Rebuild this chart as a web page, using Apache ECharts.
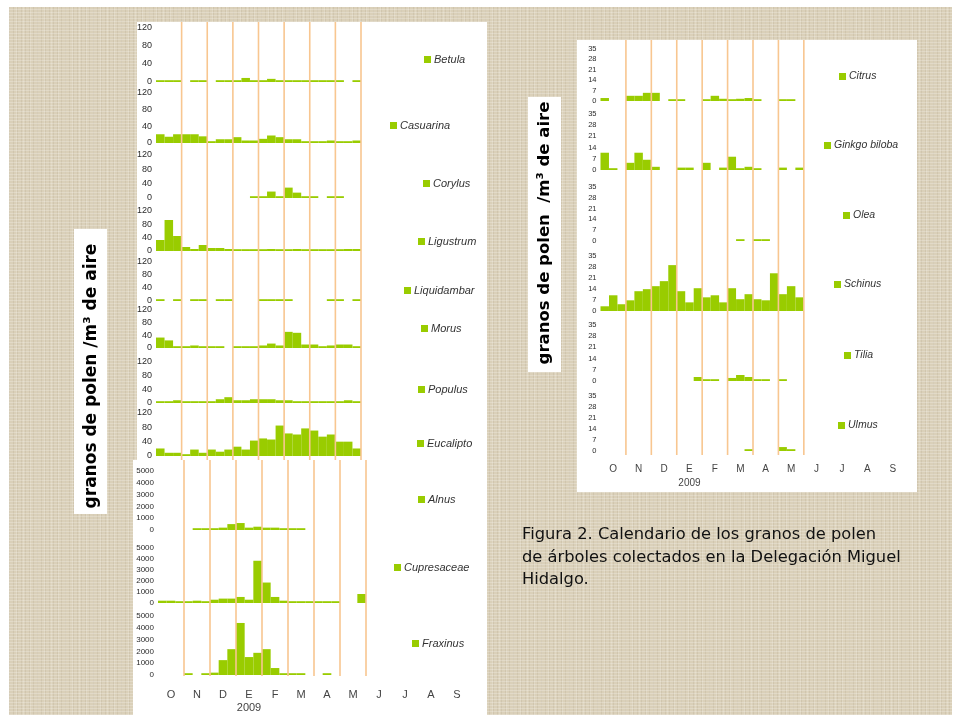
<!DOCTYPE html>
<html>
<head>
<meta charset="utf-8">
<script src="https://cdn.jsdelivr.net/npm/echarts@6/dist/echarts.min.js"></script>
<style>
  html, body { margin: 0; padding: 0; background: #ffffff; }
  #paper {
    position: absolute; left: 9px; top: 7px; width: 943px; height: 708px;
    background-color: #dad0b9;
    background-image:
      repeating-linear-gradient(0deg, rgba(255,255,255,0.22) 0px, rgba(255,255,255,0.22) 1px, rgba(0,0,0,0) 1px, rgba(0,0,0,0) 3px),
      repeating-linear-gradient(90deg, rgba(110,90,60,0.09) 0px, rgba(110,90,60,0.09) 1px, rgba(0,0,0,0) 1px, rgba(0,0,0,0) 4px),
      repeating-linear-gradient(90deg, rgba(255,255,255,0.15) 0px, rgba(255,255,255,0.15) 1px, rgba(0,0,0,0) 1px, rgba(0,0,0,0) 7px);
  }
  #chart { position: absolute; left: 0; top: 0; width: 961px; height: 722px; }
</style>
</head>
<body>
<div id="paper"></div>
<div id="chart"></div>
<script>
// Month ticks (October 2008 – September 2009) and ten-day sampling periods
const months = ['O', 'N', 'D', 'E', 'F', 'M', 'A', 'M', 'J', 'J', 'A', 'S'];
const yearLabel = '2009';
const monthBoundaries = [3, 6, 9, 12, 15, 18, 21, 24];

// Pollen grains / m3 of air, one value per ten-day period (October to May)
const betula      = [2, 2, 2, null, 2, 2, null, 2, 2, 4, 9, 1, 3, 7, 3, 4, 3, 1, 4, 1, 2, 2, null, 4];
const casuarina   = [21, 15, 21, 21, 21, 16, 4, 9, 9, 14, 6, 6, 10, 18, 14, 9, 9, 4, 4, 2, 6, 2, 2, 6];
const corylus     = [null, null, null, null, null, null, null, null, null, null, null, 1, 1, 18, 1, 29, 15, 2, 1, null, 1, 1, null, null];
const ligustrum   = [33, 93, 45, 12, 6, 18, 9, 9, 6, 3, 1, 1, 3, 6, 1, 3, 6, 3, 3, 1, 1, 3, 6, 6];
const liquidambar = [1, null, 1, null, 1, 1, null, 1, 1, null, null, null, 1, 1, 3, 3, null, null, null, null, 1, 1, null, 1];
const morus       = [33, 24, 2, 4, 8, 2, 2, 1, null, 2, 4, 2, 8, 14, 8, 51, 48, 11, 11, 4, 8, 11, 11, 4];
const populus     = [5, 5, 8, 1, 1, 1, 1, 11, 17, 8, 8, 11, 11, 11, 8, 8, 1, 1, 1, 1, 1, 1, 8, 1];
const eucalipto   = [21, 9, 9, 4, 18, 9, 18, 12, 18, 26, 18, 43, 49, 46, 85, 63, 60, 77, 71, 54, 60, 40, 40, 21];
const alnus       = [null, null, null, null, 30, 30, 100, 200, 500, 590, 200, 280, 200, 200, 30, 30, 30, null, null, null, null, null, null, null];
const cupresaceae = [210, 210, 20, 120, 210, 120, 300, 400, 400, 550, 300, 3840, 1860, 550, 210, 120, 120, 120, 120, 30, 30, null, null, 820];
const fraxinus    = [null, null, null, 20, null, 20, 200, 1260, 2190, 4410, 1520, 1880, 2190, 590, 80, 80, 20, null, null, 20, null, null, null, null];

const citrus  = [2, null, null, 3.5, 3.5, 5.5, 5.5, null, 1, 1, null, null, 1, 3.5, 1.5, 0.5, 1.5, 2, 0.5, null, null, 1, 1, null];
const ginkgo  = [10.8, 0.5, null, 4.5, 10.8, 6.4, 2, null, null, 1.5, 1.5, null, 4.5, null, 1.5, 8.3, 0.5, 2, 0.5, null, null, 1.5, null, 1.5];
const olea    = [null, null, null, null, null, null, null, null, null, null, null, null, null, null, null, null, 0.5, null, 0.5, 0.5, null, null, null, null];
const schinus = [3, 10, 4.3, 6.8, 12.6, 13.9, 15.8, 19, 29.2, 12.6, 5.5, 14.5, 8.7, 10, 5.5, 14.5, 7.5, 10.7, 7.5, 6.8, 24, 10.7, 15.8, 8.7];
const tilia   = [null, null, null, null, null, null, null, null, null, null, null, 2.5, 0.5, 0.5, null, 1.9, 3.75, 2.5, 0.5, 0.5, null, 0.5, null, null];
const ulmus   = [null, null, null, null, null, null, null, null, null, null, null, null, null, null, null, null, null, 1, null, null, null, 2.5, 1, null];

const GREEN = '#99cc00';
const LINE = '#f8c690';
const FONT = '"Liberation Sans", Arial, sans-serif';
const TITLE_FONT = '"DejaVu Sans", Verdana, sans-serif';

// Panel layout: grid box, y scale, legend placement
const panels = [
  // left column, 0–120 scale
  { name: 'Betula',      data: betula,      left: 156, w: 307.5, top: 28,  bottom: 82,  max: 120,  step: 40,   fs: 9,   lx: 424, ly: 58 },
  { name: 'Casuarina',   data: casuarina,   left: 156, w: 307.5, top: 93,  bottom: 143, max: 120,  step: 40,   fs: 9,   lx: 390, ly: 124 },
  { name: 'Corylus',     data: corylus,     left: 156, w: 307.5, top: 155, bottom: 198, max: 120,  step: 40,   fs: 9,   lx: 423, ly: 182 },
  { name: 'Ligustrum',   data: ligustrum,   left: 156, w: 307.5, top: 211, bottom: 251, max: 120,  step: 40,   fs: 9,   lx: 418, ly: 240 },
  { name: 'Liquidambar', data: liquidambar, left: 156, w: 307.5, top: 262, bottom: 301, max: 120,  step: 40,   fs: 9,   lx: 404, ly: 289 },
  { name: 'Morus',       data: morus,       left: 156, w: 307.5, top: 310, bottom: 348, max: 120,  step: 40,   fs: 9,   lx: 421, ly: 327 },
  { name: 'Populus',     data: populus,     left: 156, w: 307.5, top: 362, bottom: 403, max: 120,  step: 40,   fs: 9,   lx: 418, ly: 388 },
  { name: 'Eucalipto',   data: eucalipto,   left: 156, w: 307.5, top: 413, bottom: 456, max: 120,  step: 40,   fs: 9,   lx: 417, ly: 442 },
  // left column, 0–5000 scale
  { name: 'Alnus',       data: alnus,       left: 158, w: 312,   top: 471, bottom: 530, max: 5000, step: 1000, fs: 8,   lx: 418, ly: 498 },
  { name: 'Cupresaceae', data: cupresaceae, left: 158, w: 312,   top: 548, bottom: 603, max: 5000, step: 1000, fs: 8,   lx: 394, ly: 566 },
  { name: 'Fraxinus',    data: fraxinus,    left: 158, w: 312,   top: 616, bottom: 675, max: 5000, step: 1000, fs: 8,   lx: 412, ly: 642, months: { size: 11, margin: 13, lh: 13 } },
  // right column, 0–35 scale
  { name: 'Citrus',        data: citrus,  left: 600.5, w: 305, top: 49,  bottom: 101, max: 35, step: 7, fs: 7.5, lx: 839, ly: 75,  ls: 10.5 },
  { name: 'Ginkgo biloba', data: ginkgo,  left: 600.5, w: 305, top: 114, bottom: 170, max: 35, step: 7, fs: 7.5, lx: 824, ly: 144, ls: 10.5 },
  { name: 'Olea',          data: olea,    left: 600.5, w: 305, top: 187, bottom: 241, max: 35, step: 7, fs: 7.5, lx: 843, ly: 214, ls: 10.5 },
  { name: 'Schinus',       data: schinus, left: 600.5, w: 305, top: 256, bottom: 311, max: 35, step: 7, fs: 7.5, lx: 834, ly: 283, ls: 10.5 },
  { name: 'Tilia',         data: tilia,   left: 600.5, w: 305, top: 325, bottom: 381, max: 35, step: 7, fs: 7.5, lx: 844, ly: 354, ls: 10.5 },
  { name: 'Ulmus',         data: ulmus,   left: 600.5, w: 305, top: 396, bottom: 451, max: 35, step: 7, fs: 7.5, lx: 838, ly: 424, ls: 10.5, months: { size: 10, margin: 11, lh: 14 } }
];

// Month-boundary guide strips spanning each block of panels
const guides = [
  { left: 156,   w: 307.5, top: 22,  bottom: 460 },
  { left: 158,   w: 312,   top: 460, bottom: 676 },
  { left: 600.5, w: 305,   top: 40,  bottom: 455 }
];

const grid = [], xAxis = [], yAxis = [], series = [], legend = [];

panels.forEach(p => {
  const g = grid.length;
  grid.push({ left: p.left, top: p.top, width: p.w, height: p.bottom - p.top, containLabel: false });
  const xi = xAxis.length, yi = yAxis.length;
  xAxis.push({ gridIndex: g, type: 'value', min: 0, max: 36, show: false, position: 'top' });
  yAxis.push({
    gridIndex: g, type: 'value', min: 0, max: p.max, interval: p.step,
    axisLine: { show: false }, axisTick: { show: false }, splitLine: { show: false },
    axisLabel: { fontSize: p.fs, color: '#2a2a2a', margin: 4, fontFamily: FONT, formatter: v => String(v) }
  });
  series.push({
    type: 'custom', name: p.name, xAxisIndex: xi, yAxisIndex: yi, z: 2,
    itemStyle: { color: GREEN },
    encode: { x: 0, y: 1 },
    data: p.data.map((v, i) => [i, v]).filter(d => d[1] !== null),
    renderItem: (params, api) => {
      const i = api.value(0), v = api.value(1);
      const a = api.coord([i, 0]);
      const b = api.coord([i + 1, v]);
      const h = Math.max(1.8, a[1] - b[1]);
      return { type: 'rect', shape: { x: a[0], y: a[1] - h, width: b[0] - a[0], height: h }, style: { fill: GREEN } };
    }
  });
  legend.push({
    data: [{ name: p.name, icon: 'rect', itemStyle: { color: GREEN } }],
    left: p.lx, top: p.ly - 4, itemWidth: 7, itemHeight: 7, padding: 0, selectedMode: false,
    textStyle: { fontStyle: 'italic', fontSize: p.ls || 11, color: '#333', fontFamily: FONT, padding: [0, 0, 0, -2] }
  });
  if (p.months) {
    xAxis.push({
      gridIndex: g, type: 'category', data: months, position: 'bottom',
      axisLine: { show: false }, axisTick: { show: false },
      axisLabel: {
        interval: 0, margin: p.months.margin, fontSize: p.months.size, lineHeight: p.months.lh,
        color: '#444', fontFamily: FONT,
        formatter: (v, idx) => idx === 3 ? v + '\n' + yearLabel : v
      }
    });
  }
});

guides.forEach(gd => {
  const g = grid.length;
  grid.push({ left: gd.left, top: gd.top, width: gd.w, height: gd.bottom - gd.top });
  const xi = xAxis.length, yi = yAxis.length;
  xAxis.push({ gridIndex: g, type: 'value', min: 0, max: 36, show: false });
  yAxis.push({ gridIndex: g, type: 'value', min: 0, max: 1, show: false });
  series.push({
    type: 'custom', xAxisIndex: xi, yAxisIndex: yi, z: 5, silent: true,
    encode: { x: 0, y: 1 },
    data: monthBoundaries.map(b => [b, 0]),
    renderItem: (params, api) => {
      const x = api.value(0);
      const a = api.coord([x, 0]);
      const b = api.coord([x, 1]);
      return { type: 'line', shape: { x1: a[0], y1: a[1], x2: b[0], y2: b[1] }, style: { stroke: LINE, lineWidth: 1.6 } };
    }
  });
});

const yTitle = 'granos de polen /m\u00b3 de aire';
const yTitleRight = 'granos de polen  /m\u00b3 de aire';

const graphic = [
  // white chart sheets
  { type: 'rect', z: -10, shape: { x: 137, y: 22, width: 350, height: 440 }, style: { fill: '#ffffff' } },
  { type: 'rect', z: -10, shape: { x: 133, y: 460, width: 354, height: 258 }, style: { fill: '#ffffff' } },
  { type: 'rect', z: -10, shape: { x: 577, y: 40, width: 340, height: 452 }, style: { fill: '#ffffff' } },
  // vertical unit titles
  { type: 'rect', z: -10, shape: { x: 74, y: 229, width: 33, height: 285 }, style: { fill: '#ffffff' } },
  { type: 'rect', z: -10, shape: { x: 528, y: 97, width: 33, height: 275 }, style: { fill: '#ffffff' } },
  { type: 'text', z: -9, x: 92, y: 376, rotation: Math.PI / 2,
    style: { text: yTitle, font: 'bold 17px ' + TITLE_FONT, fill: '#000', textAlign: 'center', textVerticalAlign: 'middle', align: 'center', verticalAlign: 'middle' } },
  { type: 'text', z: -9, x: 545, y: 233, rotation: Math.PI / 2,
    style: { text: yTitleRight, font: 'bold 16.5px ' + TITLE_FONT, fill: '#000', textAlign: 'center', textVerticalAlign: 'middle', align: 'center', verticalAlign: 'middle' } },
  // caption
  { type: 'text', z: -9, x: 522, y: 524,
    style: { text: 'Figura 2. Calendario de los granos de polen\nde árboles colectados en la Delegación Miguel\nHidalgo.',
             font: '16.3px ' + TITLE_FONT, lineHeight: 22.5, fill: '#111' } }
];

const chart = echarts.init(document.getElementById('chart'), null, { renderer: 'canvas' });
chart.setOption({
  backgroundColor: 'transparent',
  animation: false,
  grid, xAxis, yAxis, series, legend, graphic
});
</script>
</body>
</html>
